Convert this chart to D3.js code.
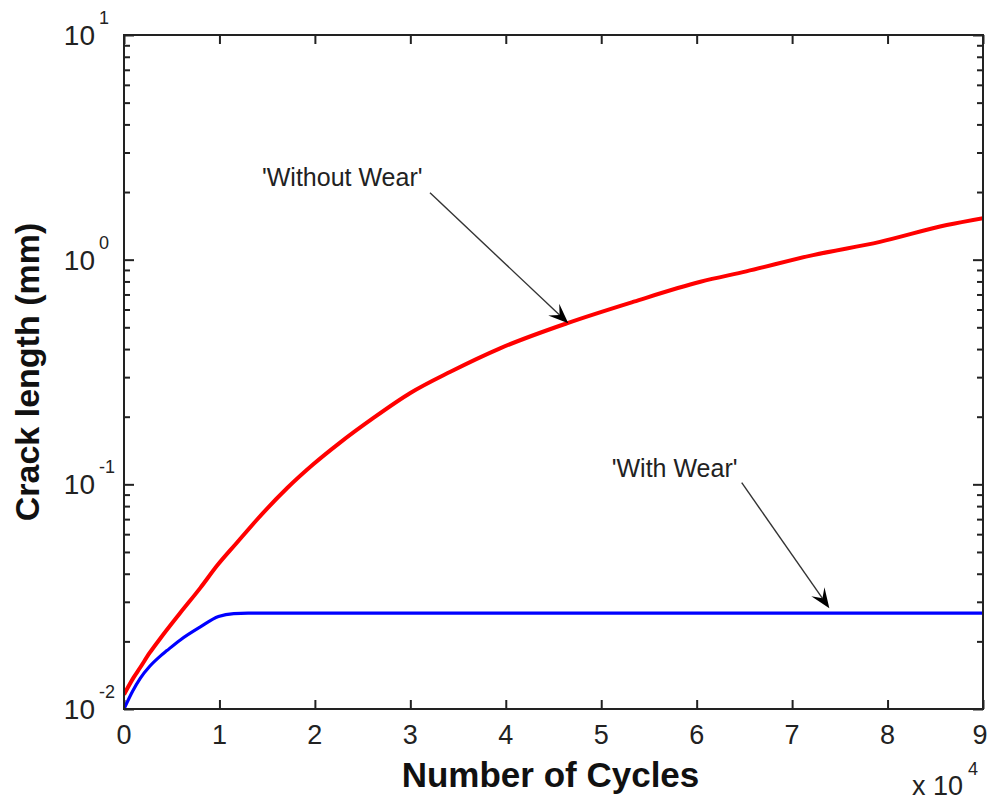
<!DOCTYPE html>
<html>
<head>
<meta charset="utf-8">
<script src="https://cdn.jsdelivr.net/npm/d3@7/dist/d3.min.js"></script>
<style>
  html, body { margin: 0; padding: 0; background: #ffffff; }
  svg { display: block; }
</style>
</head>
<body>
<svg id="chart" width="989" height="802"></svg>
<script>
// ---------------- data ----------------
const withoutWearCycles = [0, 1000, 1700, 2700, 3800, 5900, 8000, 9800, 11800, 13900, 17100, 19800, 22600, 26100, 30000, 34200, 39400, 46400, 53400, 60400, 65200, 72200, 79200, 86200, 90000];
const withoutWearCrack  = [0.0116, 0.0138, 0.0153, 0.0178, 0.0206, 0.0268, 0.0346, 0.0437, 0.0548, 0.0694, 0.0963, 0.1225, 0.153, 0.197, 0.255, 0.317, 0.403, 0.521, 0.65, 0.797, 0.887, 1.048, 1.20, 1.426, 1.53];

const withWearCycles = [0, 900, 1700, 2700, 3800, 4500, 5900, 8000, 9900, 11500, 13000, 90000];
const withWearCrack  = [0.0100, 0.0120, 0.0137, 0.0155, 0.0172, 0.0182, 0.0203, 0.0232, 0.0258, 0.0266, 0.0267, 0.0267];

const xTickValues = [0, 10000, 20000, 30000, 40000, 50000, 60000, 70000, 80000, 90000];
const xTickLabels = ["0", "1", "2", "3", "4", "5", "6", "7", "8", "9"];
const yTickValues = [0.01, 0.1, 1, 10];
const yTickExponents = ["-2", "-1", "0", "1"];

const annotTexts   = ["'Without Wear'", "'With Wear'"];
const annotTextX   = [14460, 51100];
const annotTextY   = [2.126, 0.1081];
const arrowFromX   = [32060, 64720];
const arrowFromY   = [1.985, 0.1017];
const arrowToX     = [46550, 73900];
const arrowToY     = [0.521, 0.0281];

const xLabel = "Number of Cycles";
const yLabel = "Crack length (mm)";
const xMultiplier = "x 10";
const xMultiplierExp = "4";

// ---------------- layout ----------------
const W = 989;
const L = 124, R = 983, T = 35, B = 709;
const svg = d3.select("#chart");
const FONT = "'Liberation Sans', Arial, Helvetica, sans-serif";

const x = d3.scaleLinear().domain([0, 90000]).range([L, R]);
const y = d3.scaleLog().domain([0.01, 10]).range([B, T]);

// minor y ticks
const yMinor = [];
for (let e = -2; e < 1; e++) {
  for (let m = 2; m <= 9; m++) yMinor.push(m * Math.pow(10, e));
}

const axisColor = "#222";

const gB = svg.append("g").attr("transform", `translate(0,${B})`)
  .call(d3.axisBottom(x).tickValues(xTickValues).tickSize(-9).tickFormat(""));
const gT = svg.append("g").attr("transform", `translate(0,${T})`)
  .call(d3.axisTop(x).tickValues(xTickValues).tickSize(-9).tickFormat(""));
const gLm = svg.append("g").attr("transform", `translate(${L},0)`)
  .call(d3.axisLeft(y).tickValues(yMinor).tickSize(-6).tickFormat(""));
const gL = svg.append("g").attr("transform", `translate(${L},0)`)
  .call(d3.axisLeft(y).tickValues(yTickValues).tickSize(-10).tickFormat(""));
const gRm = svg.append("g").attr("transform", `translate(${R},0)`)
  .call(d3.axisRight(y).tickValues(yMinor).tickSize(-6).tickFormat(""));
const gR = svg.append("g").attr("transform", `translate(${R},0)`)
  .call(d3.axisRight(y).tickValues(yTickValues).tickSize(-10).tickFormat(""));

[gB, gT, gLm, gL, gRm, gR].forEach(g => {
  g.select(".domain").remove();
  g.selectAll(".tick line").attr("stroke", axisColor).attr("stroke-width", 2);
});

// curves
const line = d3.line().x(d => x(d[0])).y(d => y(d[1])).curve(d3.curveMonotoneX);
const redData = withoutWearCycles.map((c, i) => [c, withoutWearCrack[i]]);
const blueData = withWearCycles.map((c, i) => [c, withWearCrack[i]]);

svg.append("clipPath").attr("id", "clip")
  .append("rect").attr("x", L).attr("y", T).attr("width", R - L).attr("height", B - T);

svg.append("path").datum(blueData)
  .attr("d", line).attr("fill", "none")
  .attr("stroke", "#0000ff").attr("stroke-width", 3.2)
  .attr("clip-path", "url(#clip)");
svg.append("path").datum(redData)
  .attr("d", line).attr("fill", "none")
  .attr("stroke", "#ff0000").attr("stroke-width", 4)
  .attr("clip-path", "url(#clip)");

// frame
svg.append("rect").attr("x", L).attr("y", T).attr("width", R - L).attr("height", B - T)
  .attr("fill", "none").attr("stroke", axisColor).attr("stroke-width", 2);

// x tick labels
svg.append("g").selectAll("text").data(xTickValues).join("text")
  .attr("x", d => Math.min(x(d), W - 9)).attr("y", B + 35)
  .attr("text-anchor", "middle")
  .attr("font-family", FONT).attr("font-size", 27).attr("fill", "#222")
  .text((d, i) => xTickLabels[i]);

// y tick labels: 10^n
const yl = svg.append("g").selectAll("g").data(yTickValues).join("g");
yl.append("text")
  .attr("x", L - 29).attr("y", d => y(d) + 10)
  .attr("text-anchor", "end")
  .attr("font-family", FONT).attr("font-size", 28).attr("fill", "#222")
  .text("10");
yl.append("text")
  .attr("x", L - 25).attr("y", d => y(d) - 11)
  .attr("text-anchor", "start")
  .attr("font-family", FONT).attr("font-size", 18).attr("fill", "#222")
  .text((d, i) => yTickExponents[i]);

// x multiplier
svg.append("text").attr("x", 912).attr("y", 795)
  .attr("font-family", FONT).attr("font-size", 27).attr("fill", "#222")
  .text(xMultiplier);
svg.append("text").attr("x", 968).attr("y", 775)
  .attr("font-family", FONT).attr("font-size", 18).attr("fill", "#222")
  .text(xMultiplierExp);

// axis labels
svg.append("text").attr("x", (L + R) / 2 - 3).attr("y", 787)
  .attr("text-anchor", "middle")
  .attr("font-family", FONT).attr("font-size", 35).attr("font-weight", "bold").attr("fill", "#111")
  .text(xLabel);
svg.append("text")
  .attr("transform", `translate(39,${(T + B) / 2}) rotate(-90)`)
  .attr("text-anchor", "middle")
  .attr("font-family", FONT).attr("font-size", 34).attr("font-weight", "bold").attr("fill", "#111")
  .text(yLabel);

// annotations
annotTexts.forEach((t, i) => {
  svg.append("text").attr("x", x(annotTextX[i])).attr("y", y(annotTextY[i]))
    .attr("font-family", FONT).attr("font-size", 25).attr("fill", "#222")
    .text(t);
  const x0 = x(arrowFromX[i]), y0 = y(arrowFromY[i]);
  const x1 = x(arrowToX[i]), y1 = y(arrowToY[i]);
  const ang = Math.atan2(y1 - y0, x1 - x0);
  const len = 20, half = 8, notch = 12;
  const ux = Math.cos(ang), uy = Math.sin(ang);
  const px = -uy, py = ux;
  const bx = x1 - ux * len, by = y1 - uy * len;
  const nx = x1 - ux * notch, ny = y1 - uy * notch;
  svg.append("line").attr("x1", x0).attr("y1", y0).attr("x2", nx).attr("y2", ny)
    .attr("stroke", "#333").attr("stroke-width", 1.4);
  svg.append("path")
    .attr("d", `M${x1},${y1} L${bx + px * half},${by + py * half} L${nx},${ny} L${bx - px * half},${by - py * half} Z`)
    .attr("fill", "#000");
});
</script>
</body>
</html>
